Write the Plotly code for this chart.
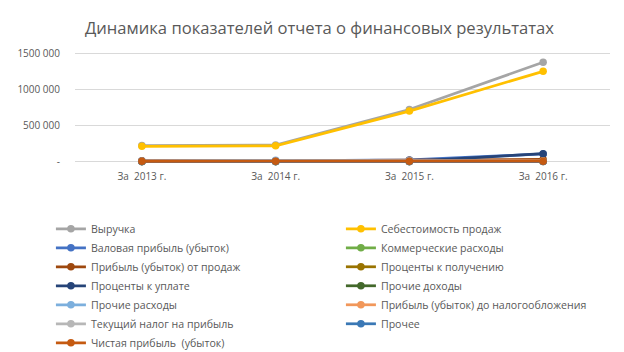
import plotly.graph_objects as go

categories = ["За  2013 г.", "За  2014 г.", "За  2015 г.", "За  2016 г."]

series_names = [
    "Выручка",
    "Себестоимость продаж",
    "Валовая прибыль (убыток)",
    "Коммерческие расходы",
    "Прибыль (убыток) от продаж",
    "Проценты к получению",
    "Проценты к уплате",
    "Прочие доходы",
    "Прочие расходы",
    "Прибыль (убыток) до налогообложения",
    "Текущий налог на прибыль",
    "Прочее",
    "Чистая прибыль  (убыток)",
]

vyruchka = [222000, 228000, 722000, 1378000]
sebestoimost = [212000, 218000, 700000, 1252000]
valovaya = [10000, 10000, 22000, 105000]
kommercheskie = [2000, 2000, 3000, 4000]
pribyl_prodazh = [8000, 8000, 19000, 30000]
proc_poluch = [0, 0, 0, 0]
proc_uplate = [0, 0, 2000, 110000]
prochie_dohody = [1000, 2000, 1000, 3000]
prochie_rashody = [4000, 18000, 14000, 6000]
pribyl_do_nalog = [5000, 6000, 6000, 8000]
tek_nalog = [1000, 1500, 1500, 2000]
prochee = [0, 0, 0, 0]
chistaya = [4000, 4500, 4500, 6000]

series_values = [
    vyruchka, sebestoimost, valovaya, kommercheskie, pribyl_prodazh,
    proc_poluch, proc_uplate, prochie_dohody, prochie_rashody,
    pribyl_do_nalog, tek_nalog, prochee, chistaya,
]

colors = [
    "#A5A5A5", "#FFC000", "#4472C4", "#70AD47", "#9E480E", "#997300",
    "#264478", "#43682B", "#7CAFDD", "#F1975A", "#B7B7B7", "#3A78B5", "#C55A11",
]

y_tickvals = [0, 500000, 1000000, 1500000]
y_ticktext = ["-", "500 000", "1000 000", "1500 000"]

FONT = "Open Sans"
GRAY = "#595959"

fig = go.Figure()
for name, vals, col in zip(series_names, series_values, colors):
    fig.add_trace(go.Scatter(
        x=categories, y=vals, name=name, mode="lines+markers",
        line=dict(color=col, width=2.75),
        marker=dict(color=col, size=7.5),
        cliponaxis=False,
    ))

fig.update_layout(
    width=624, height=352,
    margin=dict(l=75, r=14, t=52, b=189, autoexpand=False),
    paper_bgcolor="white", plot_bgcolor="white",
    title=dict(text="Динамика показателей отчета о финансовых результатах",
               x=0.512, xanchor="center", y=0.92, yanchor="middle",
               font=dict(family=FONT, size=16.6, color=GRAY)),
    font=dict(family=FONT, size=10.6, color=GRAY),
    showlegend=True,
    legend=dict(orientation="h", x=-0.045, xanchor="left", y=-0.462, yanchor="top",
                entrywidth=245, entrywidthmode="pixels",
                font=dict(family=FONT, size=10.6, color=GRAY),
                bgcolor="rgba(0,0,0,0)", tracegroupgap=0),
)
fig.update_xaxes(type="category", range=[-0.5, 3.5], showgrid=False, showline=False,
                 zeroline=False, ticks="", ticklabelstandoff=6,
                 tickfont=dict(family=FONT, size=10, color=GRAY))
fig.update_yaxes(range=[-20000, 1520000], tickvals=y_tickvals, ticktext=y_ticktext,
                 showgrid=True, gridcolor="#D9D9D9", gridwidth=1, zeroline=False,
                 showline=False, ticks="", ticklabelstandoff=14,
                 tickfont=dict(family=FONT, size=10, color=GRAY))

fig.write_html("out.html")
